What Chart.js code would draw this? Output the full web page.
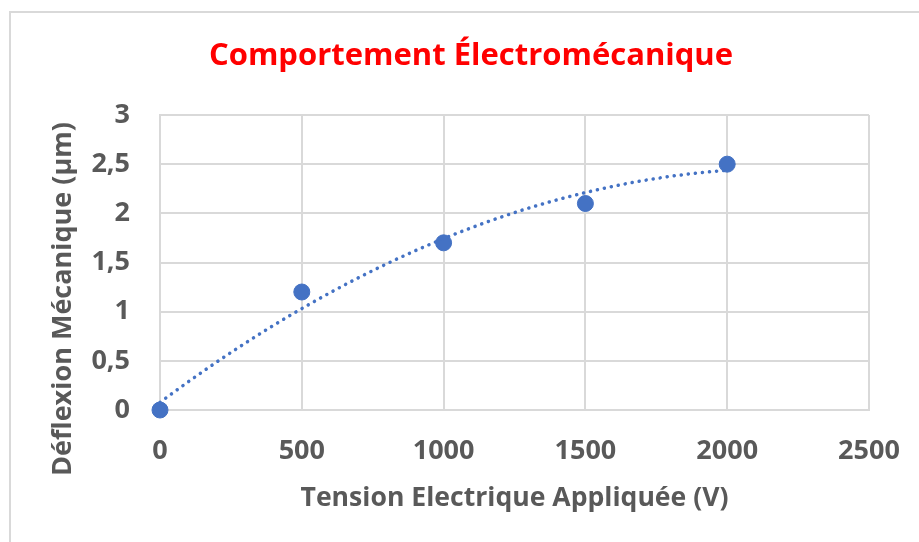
<!DOCTYPE html>
<html lang="fr">
<head>
<meta charset="utf-8">
<title>Comportement Électromécanique</title>
<script src="https://cdn.jsdelivr.net/npm/chart.js@4.4.1/dist/chart.umd.min.js"></script>
<style>
  body { margin: 0; background: #ffffff; }
  canvas { display: block; }
</style>
</head>
<body>
<canvas id="graphe" width="919" height="542"></canvas>
<script>
// Mesures : tension appliquée (V) et déflexion (µm)
const tensions = [0, 500, 1000, 1500, 2000];
const deflexions = [0, 1.2, 1.7, 2.1, 2.5];

const ticksX = [0, 500, 1000, 1500, 2000, 2500];
const ticksY = [0, 0.5, 1, 1.5, 2, 2.5, 3];

const titre = 'Comportement Électromécanique';
const titreX = 'Tension Electrique Appliquée (V)';
const titreY = 'Déflexion Mécanique (µm)';

const bleu = '#4472C4';
const gris = '#595959';
const grille = '#d9d9d9';
const police = '"Open Sans", Lato, sans-serif';

// Courbe de tendance polynomiale (ordre 2) par moindres carrés
function regressionQuadratique(xs, ys) {
    let s = [0, 0, 0, 0, 0], t = [0, 0, 0];
    for (let i = 0; i < xs.length; i++) {
        let p = 1;
        for (let k = 0; k < 5; k++) { s[k] += p; if (k < 3) t[k] += p * ys[i]; p *= xs[i]; }
    }
    // systeme 3x3 résolu par Cramer
    const m = [[s[0], s[1], s[2]], [s[1], s[2], s[3]], [s[2], s[3], s[4]]];
    const det = a => a[0][0] * (a[1][1] * a[2][2] - a[1][2] * a[2][1])
        - a[0][1] * (a[1][0] * a[2][2] - a[1][2] * a[2][0])
        + a[0][2] * (a[1][0] * a[2][1] - a[1][1] * a[2][0]);
    const d = det(m);
    const coef = [0, 1, 2].map(c => det(m.map((ligne, r) => ligne.map((v, j) => j === c ? t[r] : v))) / d);
    return x => coef[0] + coef[1] * x + coef[2] * x * x;
}

const tendance = regressionQuadratique(tensions, deflexions);
const pointsTendance = [];
for (let x = tensions[0]; x <= tensions[tensions.length - 1]; x += 20) {
    pointsTendance.push({ x: x, y: tendance(x) });
}

// Cadre, titre du graphique et titre de l'axe vertical
const decor = {
    id: 'decor',
    beforeDraw(chart) {
        const ctx = chart.ctx;
        ctx.save();
        ctx.fillStyle = '#ffffff';
        ctx.fillRect(0, 0, chart.width, chart.height);
        ctx.strokeStyle = grille;
        ctx.lineWidth = 2;
        ctx.beginPath();
        ctx.moveTo(10, chart.height);
        ctx.lineTo(10, 12);
        ctx.lineTo(chart.width, 12);
        ctx.stroke();
        ctx.restore();
    },
    afterDraw(chart) {
        const ctx = chart.ctx;
        ctx.save();
        ctx.textAlign = 'center';
        ctx.textBaseline = 'middle';
        ctx.fillStyle = '#ff0000';
        ctx.font = 'bold 31px ' + police;
        ctx.fillText(titre, 471, 56);
        ctx.fillStyle = gris;
        ctx.font = 'bold 27px ' + police;
        ctx.translate(63, 299);
        ctx.rotate(-Math.PI / 2);
        ctx.fillText(titreY, 0, 0);
        ctx.restore();
    }
};

new Chart(document.getElementById('graphe'), {
    type: 'scatter',
    data: {
        datasets: [{
            label: 'Déflexion',
            data: tensions.map((v, i) => ({ x: v, y: deflexions[i] })),
            backgroundColor: bleu,
            borderColor: bleu,
            pointRadius: 8,
            pointHoverRadius: 8,
            clip: false,
            order: 2
        }, {
            label: 'Tendance',
            type: 'line',
            data: pointsTendance,
            borderColor: bleu,
            borderWidth: 3.5,
            borderDash: [0.1, 7],
            borderCapStyle: 'round',
            pointRadius: 0,
            fill: false,
            tension: 0,
            clip: false,
            order: 1
        }]
    },
    options: {
        responsive: false,
        animation: false,
        devicePixelRatio: 1,
        layout: { padding: { top: 115, right: 50, left: 0, bottom: 0 } },
        plugins: {
            legend: { display: false },
            title: { display: false },
            tooltip: { enabled: false }
        },
        scales: {
            x: {
                type: 'linear',
                min: 0,
                max: 2500,
                afterBuildTicks: axe => { axe.ticks = ticksX.map(v => ({ value: v })); },
                afterFit: axe => {
                    axe.height = 132;
                    // la marge de droite est donnée par layout.padding
                    axe.paddingLeft = 0;
                    axe.paddingRight = 0;
                },
                grid: { color: grille, lineWidth: 2, drawTicks: false },
                border: { display: true, color: grille, width: 2 },
                ticks: {
                    padding: 25,
                    color: gris,
                    font: { family: police, size: 27, weight: 'bold' },
                    callback: v => String(v)
                },
                title: {
                    display: true,
                    text: titreX,
                    color: gris,
                    font: { family: police, size: 26.6, weight: 'bold' },
                    padding: { top: 0, bottom: 28 }
                }
            },
            y: {
                min: 0,
                max: 3,
                afterBuildTicks: axe => { axe.ticks = ticksY.map(v => ({ value: v })); },
                afterFit: axe => { axe.width = 160; },
                grid: { color: grille, lineWidth: 2, drawTicks: false },
                border: { display: true, color: grille, width: 2 },
                ticks: {
                    padding: 30,
                    color: gris,
                    font: { family: police, size: 27, weight: 'bold' },
                    callback: v => String(v).replace('.', ',')
                }
            }
        }
    },
    plugins: [decor]
});
</script>
</body>
</html>
